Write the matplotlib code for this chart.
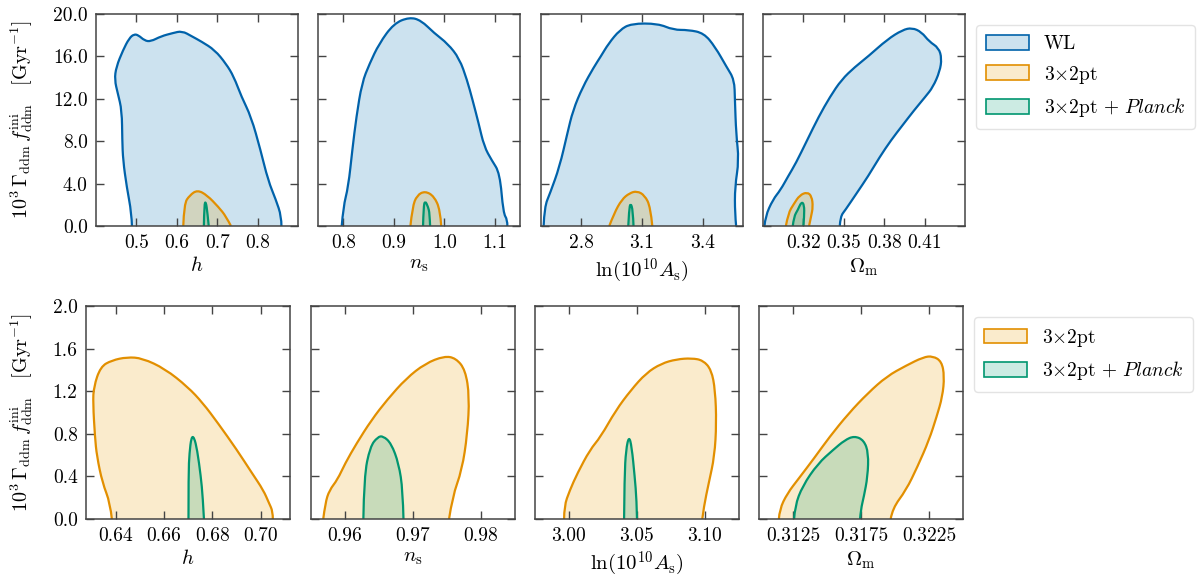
import matplotlib
matplotlib.use("Agg")
import matplotlib.pyplot as plt
from matplotlib.patches import Patch, PathPatch
from matplotlib.path import Path
from matplotlib.colors import to_rgba

plt.rcParams["font.family"] = "cmr10"
plt.rcParams["mathtext.fontset"] = "cm"
plt.rcParams["axes.unicode_minus"] = False
plt.rcParams["axes.formatter.use_mathtext"] = True

# colours: (line, fill base)
c_wl = ("#0062AA", "#0072B2")
c_32 = ("#E28F00", "#E69F00")
c_pl = ("#009670", "#009E73")

xlabels = [r"$h$", r"$n_{\rm s}$", r"$\ln(10^{10}A_{\rm s})$", r"$\Omega_{\rm m}$"]
ylabel = r"$10^3\,\Gamma_{\rm ddm}\,f_{\rm ddm}^{\rm ini}\quad[{\rm Gyr}^{-1}]$"

# ---- top row: WL, 3x2pt, 3x2pt + Planck ----
top_xlims = [(0.40, 0.90), (0.75, 1.15), (2.60, 3.60), (0.29, 0.44)]
top_xticks = [[0.5, 0.6, 0.7, 0.8], [0.8, 0.9, 1.0, 1.1], [2.8, 3.1, 3.4], [0.32, 0.35, 0.38, 0.41]]
top_xfmt = ["%.1f", "%.1f", "%.1f", "%.2f"]
top_yticks = [0, 4, 8, 12, 16, 20]

wl_h = [(0.489, 0.0), (0.488, 1.2), (0.476, 3.7), (0.467, 6.2), (0.465, 8.1), (0.464, 10.9),
        (0.454, 12.5), (0.446, 13.8), (0.450, 15.0), (0.467, 16.6), (0.482, 17.7), (0.494, 18.1),
        (0.505, 18.0), (0.520, 17.5), (0.535, 17.4), (0.561, 17.9), (0.590, 18.2), (0.613, 18.4),
        (0.637, 17.9), (0.661, 17.4), (0.694, 16.6), (0.722, 15.3), (0.741, 14.1), (0.760, 12.2),
        (0.784, 10.3), (0.807, 7.2), (0.826, 4.3), (0.845, 2.5), (0.859, 0.9), (0.859, 0.0)]
s32_h = [(0.616, 0.0), (0.618, 2.1), (0.632, 2.9), (0.651, 3.4), (0.675, 2.9), (0.703, 1.8),
         (0.722, 0.9), (0.734, 0.0)]
pl_h = [(0.667, 0.0), (0.668, 2.1), (0.672, 2.3), (0.676, 1.2), (0.679, 0.0)]

wl_ns = [(0.797, 0.0), (0.800, 1.8), (0.810, 3.7), (0.818, 7.2), (0.826, 10.3), (0.837, 13.5),
         (0.852, 15.3), (0.871, 17.2), (0.900, 19.1), (0.931, 19.7), (0.954, 19.4), (0.980, 18.2),
         (1.007, 17.2), (1.030, 15.8), (1.045, 13.8), (1.056, 11.9), (1.068, 9.7), (1.079, 7.5),
         (1.094, 6.2), (1.110, 5.0), (1.117, 1.2), (1.125, 0.6), (1.125, 0.0)]
s32_ns = [(0.933, 0.0), (0.937, 1.8), (0.946, 2.9), (0.962, 3.3), (0.980, 2.8), (0.992, 1.5),
          (0.994, 0.0)]
pl_ns = [(0.958, 0.0), (0.959, 1.8), (0.962, 2.4), (0.968, 1.8), (0.971, 1.2), (0.972, 0.0)]

wl_as = [(2.613, 0.0), (2.617, 1.8), (2.645, 3.1), (2.692, 5.6), (2.730, 8.7), (2.758, 10.9),
         (2.806, 13.1), (2.862, 15.0), (2.896, 16.0), (2.934, 17.2), (2.990, 18.5), (3.047, 19.1),
         (3.179, 19.1), (3.255, 18.5), (3.330, 18.5), (3.406, 18.2), (3.462, 16.9), (3.519, 15.0),
         (3.557, 13.8), (3.560, 11.9), (3.566, 8.7), (3.580, 6.2), (3.560, 3.7), (3.560, 1.2),
         (3.566, 0.0)]
s32_as = [(2.938, 0.0), (2.962, 1.2), (3.000, 2.5), (3.038, 3.1), (3.075, 3.3), (3.113, 2.9),
          (3.142, 1.8), (3.151, 0.0)]
pl_as = [(3.032, 0.0), (3.036, 1.5), (3.043, 2.2), (3.055, 1.5), (3.058, 0.0)]

wl_om = [(0.2911, 0.0), (0.2917, 0.9), (0.2974, 2.5), (0.3030, 3.4), (0.3087, 4.7), (0.3143, 5.9),
         (0.3228, 8.1), (0.3313, 10.3), (0.3398, 12.2), (0.3483, 13.8), (0.3582, 15.0), (0.3681, 16.0),
         (0.3823, 17.6), (0.3936, 18.5), (0.4007, 18.7), (0.4077, 18.3), (0.4134, 17.4), (0.4205, 16.8),
         (0.4227, 15.8), (0.4213, 14.6), (0.4162, 13.1), (0.4106, 12.2), (0.4021, 10.9), (0.3936, 9.5),
         (0.3851, 8.1), (0.3766, 6.5), (0.3681, 4.7), (0.3596, 3.1), (0.3511, 1.5), (0.3475, 0.9),
         (0.3470, 0.0)]
s32_om = [(0.3070, 0.0), (0.3087, 1.2), (0.3130, 2.1), (0.3172, 2.9), (0.3228, 3.2), (0.3262, 2.8),
          (0.3271, 1.8), (0.3257, 0.9), (0.3242, 0.0)]
pl_om = [(0.3121, 0.0), (0.3130, 0.9), (0.3158, 1.5), (0.3186, 2.3), (0.3206, 2.0), (0.3206, 0.9),
         (0.3200, 0.0)]

# ---- bottom row: 3x2pt, 3x2pt + Planck ----
bot_xlims = [(0.6277, 0.7121), (0.955, 0.985), (2.975, 3.125), (0.310, 0.325)]
bot_xticks = [[0.64, 0.66, 0.68, 0.70], [0.96, 0.97, 0.98], [3.00, 3.05, 3.10], [0.3125, 0.3175, 0.3225]]
bot_xfmt = ["%.2f", "%.2f", "%.2f", "%.4f"]
bot_yticks = [0.0, 0.4, 0.8, 1.2, 1.6, 2.0]

b32_h = [(0.6384, 0.0), (0.6377, 0.15), (0.6345, 0.34), (0.6322, 0.59), (0.6314, 0.77), (0.6306, 1.09),
         (0.6309, 1.24), (0.6337, 1.43), (0.6384, 1.49), (0.6447, 1.52), (0.6510, 1.51), (0.6604, 1.41),
         (0.6698, 1.24), (0.6760, 1.09), (0.6823, 0.90), (0.6901, 0.65), (0.6964, 0.43), (0.7011, 0.27),
         (0.7034, 0.15), (0.7050, 0.07), (0.7050, 0.0)]
bpl_h = [(0.6701, 0.0), (0.6701, 0.43), (0.6705, 0.62), (0.6713, 0.77), (0.6724, 0.77), (0.6737, 0.65),
         (0.6752, 0.40), (0.6760, 0.21), (0.6765, 0.0)]

b32_ns = [(0.9568, 0.0), (0.9571, 0.15), (0.9577, 0.27), (0.9589, 0.37), (0.9600, 0.52), (0.9617, 0.71),
          (0.9639, 0.93), (0.9662, 1.12), (0.9690, 1.32), (0.9718, 1.46), (0.9746, 1.53), (0.9763, 1.51),
          (0.9777, 1.40), (0.9783, 1.15), (0.9780, 0.80), (0.9772, 0.46), (0.9758, 0.21), (0.9753, 0.0)]
bpl_ns = [(0.9627, 0.0), (0.9628, 0.40), (0.9637, 0.68), (0.9648, 0.77), (0.9656, 0.78), (0.9668, 0.71),
          (0.9679, 0.52), (0.9685, 0.27), (0.9686, 0.0)]

b32_as = [(2.9964, 0.0), (2.9964, 0.12), (3.0006, 0.27), (3.0062, 0.43), (3.0154, 0.65), (3.0232, 0.77),
          (3.0344, 1.02), (3.0455, 1.21), (3.0567, 1.37), (3.0679, 1.46), (3.0791, 1.50), (3.0902, 1.51),
          (3.0986, 1.49), (3.1047, 1.40), (3.1075, 1.21), (3.1084, 0.90), (3.1070, 0.59), (3.1028, 0.34),
          (3.0992, 0.12), (3.0980, 0.0)]
bpl_as = [(3.0405, 0.0), (3.0408, 0.40), (3.0419, 0.65), (3.0441, 0.78), (3.0461, 0.68), (3.0483, 0.40),
          (3.0497, 0.18), (3.0500, 0.0)]

b32_om = [(0.31146, 0.0), (0.31151, 0.09), (0.31208, 0.24), (0.31292, 0.38), (0.31405, 0.57),
          (0.31518, 0.77), (0.31658, 0.99), (0.31799, 1.18), (0.31940, 1.34), (0.32081, 1.44),
          (0.32208, 1.52), (0.32278, 1.53), (0.32343, 1.48), (0.32363, 1.34), (0.32349, 1.15),
          (0.32306, 0.96), (0.32250, 0.74), (0.32165, 0.49), (0.32081, 0.27), (0.31982, 0.10),
          (0.31968, 0.0)]
bpl_om = [(0.31258, 0.0), (0.31264, 0.12), (0.31320, 0.31), (0.31433, 0.52), (0.31546, 0.65),
          (0.31630, 0.74), (0.31701, 0.78), (0.31771, 0.74), (0.31805, 0.62), (0.31799, 0.40),
          (0.31771, 0.21), (0.31749, 0.09), (0.31743, 0.0)]

top_sets = [[(wl_h, c_wl), (s32_h, c_32), (pl_h, c_pl)],
            [(wl_ns, c_wl), (s32_ns, c_32), (pl_ns, c_pl)],
            [(wl_as, c_wl), (s32_as, c_32), (pl_as, c_pl)],
            [(wl_om, c_wl), (s32_om, c_32), (pl_om, c_pl)]]
bot_sets = [[(b32_h, c_32), (bpl_h, c_pl)],
            [(b32_ns, c_32), (bpl_ns, c_pl)],
            [(b32_as, c_32), (bpl_as, c_pl)],
            [(b32_om, c_32), (bpl_om, c_pl)]]


def smooth_path(pts, close=False):
    # quadratic bezier through midpoints, read points act as control points
    verts = [pts[0]]
    codes = [Path.MOVETO]
    for k in range(1, len(pts) - 1):
        mid = ((pts[k][0] + pts[k + 1][0]) / 2, (pts[k][1] + pts[k + 1][1]) / 2)
        if k == len(pts) - 2:
            mid = pts[-1]
        verts += [pts[k], mid]
        codes += [Path.CURVE3, Path.CURVE3]
    if close:
        verts.append(pts[0])
        codes.append(Path.CLOSEPOLY)
    return Path(verts, codes)


def draw_contour(ax, pts, colors):
    line_c, fill_c = colors
    ax.add_patch(PathPatch(smooth_path(pts, close=True), facecolor=to_rgba(fill_c, 0.2),
                           edgecolor="none", zorder=1))
    ax.add_patch(PathPatch(smooth_path(pts), facecolor="none", edgecolor=line_c,
                           lw=1.6, joinstyle="round", zorder=2))


def style_axes(ax, xlim, xticks, xfmt, ylim, yticks, yfmt, show_y):
    ax.set_xlim(xlim)
    ax.set_ylim(ylim)
    ax.set_xticks(xticks)
    ax.set_xticklabels([xfmt % v for v in xticks])
    ax.set_yticks(yticks)
    if show_y:
        ax.set_yticklabels([yfmt % v for v in yticks])
    else:
        ax.set_yticklabels([])
    ax.tick_params(direction="in", top=True, right=True, length=6, width=1,
                   color="#444444", labelsize=14, pad=6)
    for s in ax.spines.values():
        s.set_color("#444444")
        s.set_linewidth(1.1)


fig = plt.figure(figsize=(12, 5.8), dpi=100)
W, H = 1200.0, 580.0

top_lefts = [96, 318, 541, 763]
bot_lefts = [86, 311, 535, 759]

for i in range(4):
    ax = fig.add_axes([top_lefts[i] / W, (H - 226) / H, 202 / W, 212 / H])
    for pts, col in top_sets[i]:
        draw_contour(ax, pts, col)
    style_axes(ax, top_xlims[i], top_xticks[i], top_xfmt[i], (0, 20), top_yticks, "%.1f", i == 0)
    ax.set_xlabel(xlabels[i], fontsize=15, labelpad=3)

    ax = fig.add_axes([bot_lefts[i] / W, (H - 519) / H, 204 / W, 213 / H])
    for pts, col in bot_sets[i]:
        draw_contour(ax, pts, col)
    style_axes(ax, bot_xlims[i], bot_xticks[i], bot_xfmt[i], (0, 2.0), bot_yticks, "%.1f", i == 0)
    ax.set_xlabel(xlabels[i], fontsize=15, labelpad=3)

fig.text(22 / W, 1 - 120 / H, ylabel, rotation=90, ha="center", va="center", fontsize=14.5)
fig.text(22 / W, 1 - 412.5 / H, ylabel, rotation=90, ha="center", va="center", fontsize=14.5)

lab_wl = "WL"
lab_32 = r"3$\times$2pt"
lab_pl = r"3$\times$2pt $+$ $\mathit{Planck}$"

handles_top = [Patch(facecolor=to_rgba(c[1], 0.2), edgecolor=c[0], lw=1.2) for c in (c_wl, c_32, c_pl)]
fig.legend(handles_top, [lab_wl, lab_32, lab_pl], loc="upper left",
           bbox_to_anchor=(976 / W, 1 - 25 / H), borderaxespad=0, fontsize=14,
           handlelength=2.2, handleheight=0.8, handletextpad=0.8, labelspacing=0.55,
           borderpad=0.5, frameon=True, edgecolor="#dddddd")
handles_bot = [Patch(facecolor=to_rgba(c[1], 0.2), edgecolor=c[0], lw=1.2) for c in (c_32, c_pl)]
fig.legend(handles_bot, [lab_32, lab_pl], loc="upper left",
           bbox_to_anchor=(974 / W, 1 - 317 / H), borderaxespad=0, fontsize=14,
           handlelength=2.2, handleheight=0.8, handletextpad=0.8, labelspacing=0.55,
           borderpad=0.5, frameon=True, edgecolor="#dddddd")

fig.savefig("out.png", dpi=100)
